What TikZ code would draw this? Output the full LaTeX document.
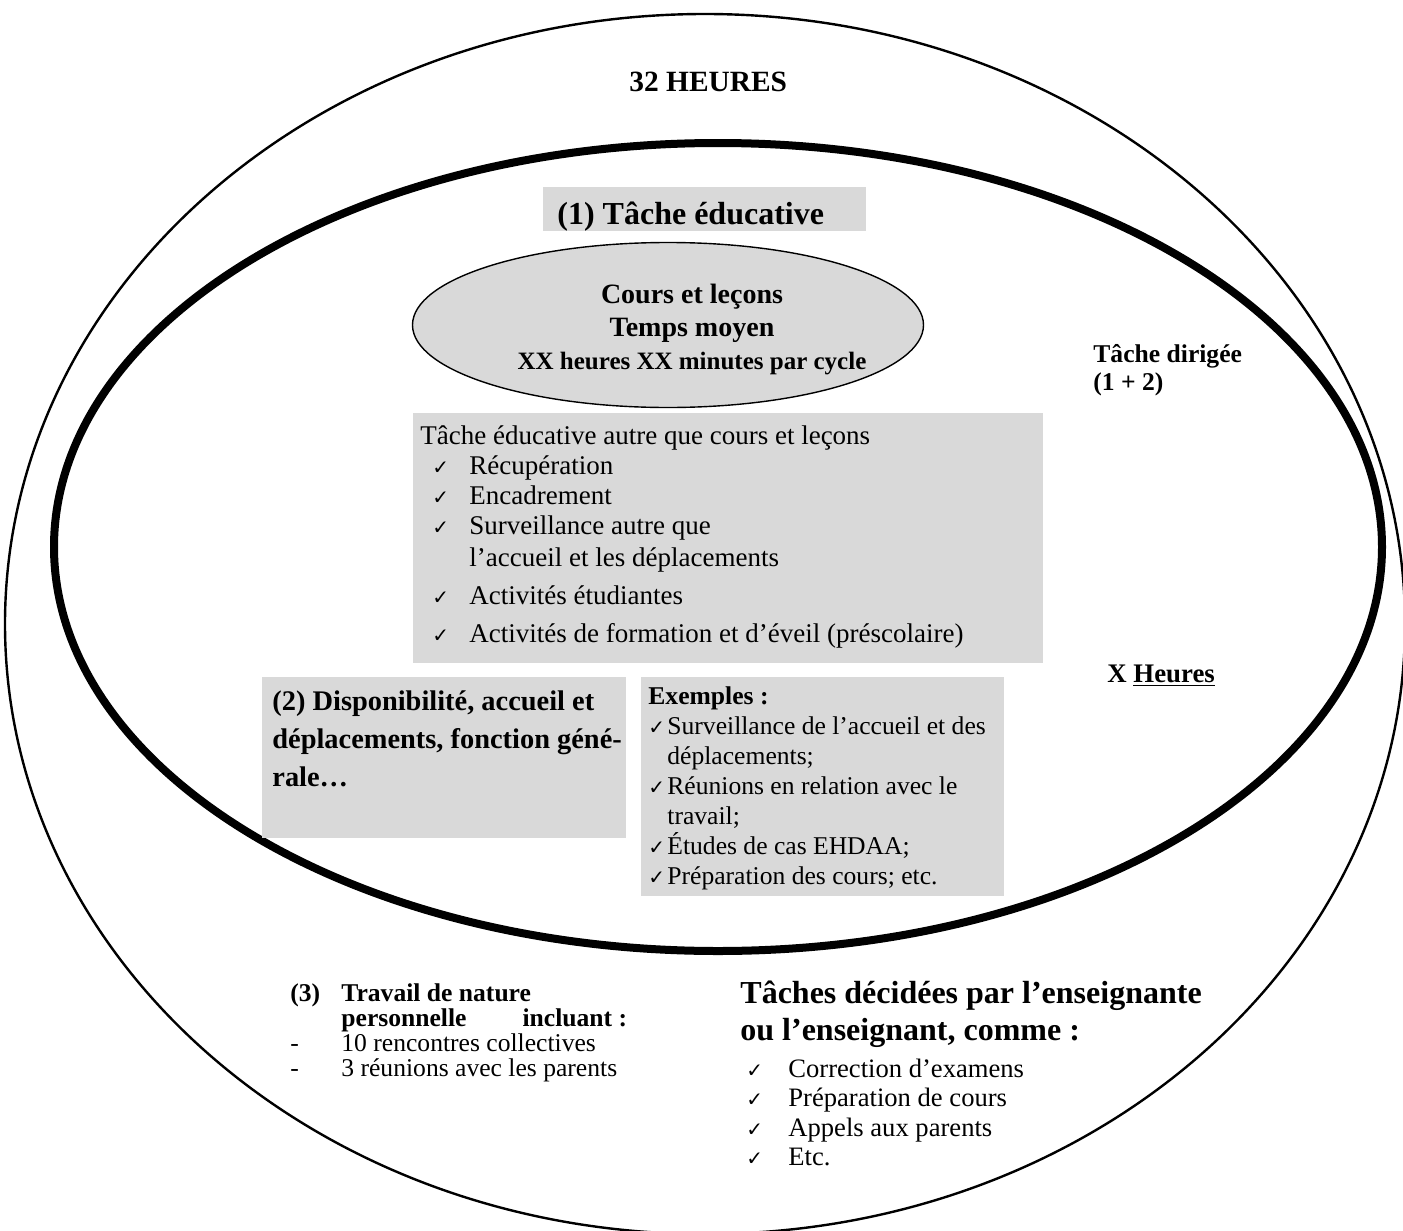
\documentclass[tikz,border=0pt]{standalone}
\usepackage{fontspec}
\setmainfont{Liberation Serif}
\newfontfamily\symb{DejaVu Sans}
\usetikzlibrary{shapes.geometric,positioning}
\definecolor{gris}{HTML}{D9D9D9}
\newcommand\taille[2]{\fontsize{#1}{#2}\selectfont}
\newcommand\hautligne{\rule{0pt}{1em}}
\newcommand\coche[2][0pt]{\makebox[#2][l]{\hspace*{#1}{\symb\fontsize{10}{10}\selectfont ✓}}}

\begin{document}
\begin{tikzpicture}[x=0.5pt,y=-0.5pt]

\tikzstyle{boite}=[fill=gris, inner sep=0pt, anchor=north west]
\tikzstyle{texte}=[inner sep=0pt, align=left, anchor=north west]

\useasboundingbox (0,0) rectangle (1403,1231);

% les deux ellipses
\draw[line width=1.2pt] (705,624) ellipse [x radius=350pt, y radius=305pt];
\draw[line width=4pt] (718,547) ellipse [x radius=332pt, y radius=202pt];

\node[texte, anchor=base west, font=\bfseries\taille{14.7}{17}] (heures) at (629,91) {32 HEURES};

% tache educative
\node[boite, minimum width=161.5pt, minimum height=22pt] (educ) at (543,187) {};
\node[texte, anchor=base west, font=\bfseries\taille{16}{19}] (eductxt) at (557,224) {(1) Tâche éducative};

\node[ellipse, draw, fill=gris, line width=0.7pt, minimum width=255.5pt, minimum height=82.5pt, inner sep=0pt] (cours) at (668,325) {};
\node[align=center, inner sep=0pt, anchor=north, font=\bfseries\taille{14}{16.5}] (courstxt) at (692,275)
  {\hautligne Cours et leçons\\ Temps moyen\\ \taille{12.5}{16}XX heures XX minutes par cycle};

\node[boite, minimum width=315pt, minimum height=125pt] (autre) at (413,413) {};
\node[texte, font=\taille{13.5}{15}] (autretxt) at (420,417) {\hautligne Tâche éducative autre que cours et leçons\\
  \coche[6pt]{24.5pt}Récupération\\
  \coche[6pt]{24.5pt}Encadrement\\
  \coche[6pt]{24.5pt}Surveillance autre que\\[1pt]
  \hspace*{24.5pt}l’accueil et les déplacements\\[4pt]
  \coche[6pt]{24.5pt}Activités étudiantes\\[4pt]
  \coche[6pt]{24.5pt}Activités de formation et d’éveil (préscolaire)};

\node[texte, font=\bfseries\taille{12.8}{14}] (dirigee) at (1093,336) {\hautligne Tâche dirigée\\(1 + 2)};
\node[texte, anchor=base west, font=\bfseries\taille{13.4}{16}] (xheures) at (1107,682) {X \underline{Heures}};

% disponibilite et exemples
\node[boite, minimum width=182pt, minimum height=80.5pt] (dispo) at (262,677) {};
\node[texte, font=\bfseries\taille{14.2}{19}] (dispotxt) at (272,682) {\hautligne (2) Disponibilité, accueil et\\
  déplacements, fonction géné-\\
  rale…};

\node[boite, minimum width=181.5pt, minimum height=109.5pt] (ex) at (641,677) {};
\node[texte, font=\taille{12.8}{15}] (extxt) at (648,678) {\hautligne\textbf{Exemples :}\\
  \coche{9.5pt}Surveillance de l’accueil et des\\
  \hspace*{9.5pt}déplacements;\\
  \coche{9.5pt}Réunions en relation avec le\\
  \hspace*{9.5pt}travail;\\
  \coche{9.5pt}Études de cas EHDAA;\\
  \coche{9.5pt}Préparation des cours; etc.};

% travail personnel
\node[texte, font=\taille{12.8}{12.5}] (perso) at (290,975) {\hautligne\textbf{\makebox[25.5pt][l]{(3)}Travail de nature}\\
  \textbf{\hspace*{25.5pt}personnelle\hspace{28pt}incluant :}\\
  \makebox[25.5pt][l]{-}10 rencontres collectives\\
  \makebox[25.5pt][l]{-}3 réunions avec les parents};

\node[texte, font=\bfseries\taille{16}{18.5}] (taches) at (740,971) {\hautligne Tâches décidées par l’enseignante\\ ou l’enseignant, comme :};
\node[texte, font=\taille{13.3}{14.75}, below=5pt of taches.base west, anchor=north west] (tachesliste) {\hautligne\coche[3pt]{24pt}Correction d’examens\\
  \coche[3pt]{24pt}Préparation de cours\\
  \coche[3pt]{24pt}Appels aux parents\\
  \coche[3pt]{24pt}Etc.};

\end{tikzpicture}
\end{document}
